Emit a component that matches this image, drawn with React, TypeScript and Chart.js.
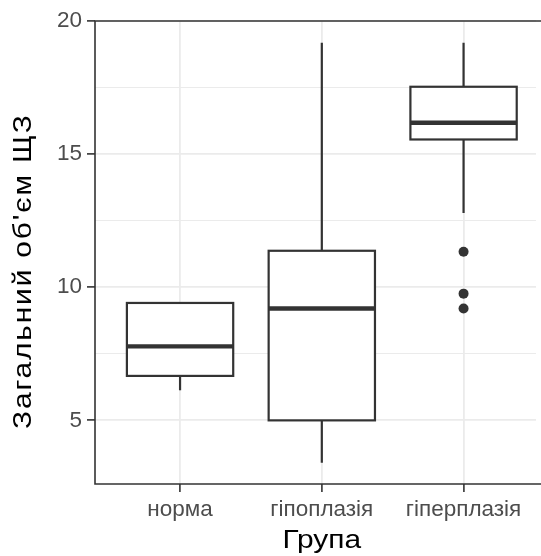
import React, { useEffect, useRef } from "react";
import { Chart, registerables } from "chart.js";

Chart.register(...registerables);

const FONT = "'Liberation Sans', Arial, Helvetica, sans-serif";

const categories = ["норма", "гіпоплазія", "гіперплазія"];
const whiskerLow = [6.13, 3.41, 12.79];
const q1 = [6.67, 5.0, 15.55];
const median = [7.78, 9.2, 16.18];
const q3 = [9.41, 11.37, 17.53];
const whiskerHigh = [9.41, 19.18, 19.18];
const outliers: number[][] = [[], [], [11.33, 9.76, 9.2]];
const yMajorTicks = [5, 10, 15, 20];
const yMinorTicks = [7.5, 12.5, 17.5];

const xTitle = "Група";
const yTitle = "Загальний об'єм ЩЗ";

const BOX_WIDTH = 0.75;

const boxPlugin = {
  id: "boxPlugin",
  beforeDatasetsDraw(chart: any) {
    const ctx = chart.ctx;
    const xs = chart.scales.x;
    const ys = chart.scales.y;
    ctx.save();
    ctx.strokeStyle = "#333333";
    ctx.lineCap = "butt";
    categories.forEach((_, i) => {
      const cx = xs.getPixelForValue(i + 1);
      const half = xs.getPixelForValue(i + 1 + BOX_WIDTH / 2) - cx;
      const yLo = ys.getPixelForValue(whiskerLow[i]);
      const yQ1 = ys.getPixelForValue(q1[i]);
      const yMed = ys.getPixelForValue(median[i]);
      const yQ3 = ys.getPixelForValue(q3[i]);
      const yHi = ys.getPixelForValue(whiskerHigh[i]);
      ctx.lineWidth = 2.2;
      ctx.beginPath();
      ctx.moveTo(cx, yQ3);
      ctx.lineTo(cx, yHi);
      ctx.moveTo(cx, yQ1);
      ctx.lineTo(cx, yLo);
      ctx.stroke();
      ctx.fillStyle = "#ffffff";
      ctx.fillRect(cx - half, yQ3, 2 * half, yQ1 - yQ3);
      ctx.strokeRect(cx - half, yQ3, 2 * half, yQ1 - yQ3);
      ctx.lineWidth = 4.4;
      ctx.beginPath();
      ctx.moveTo(cx - half, yMed);
      ctx.lineTo(cx + half, yMed);
      ctx.stroke();
    });
    ctx.restore();
  },
  afterDraw(chart: any) {
    const ctx = chart.ctx;
    const a = chart.chartArea;
    ctx.save();
    ctx.strokeStyle = "#333333";
    ctx.lineWidth = 1.6;
    ctx.beginPath();
    ctx.moveTo(chart.width + 5, a.top);
    ctx.lineTo(a.left, a.top);
    ctx.lineTo(a.left, a.bottom);
    ctx.lineTo(chart.width + 5, a.bottom);
    ctx.stroke();
    ctx.restore();

    // axis titles
    const xs = chart.scales.x;
    const xMid = xs.getPixelForValue(2);

    ctx.save();
    ctx.fillStyle = "#000000";
    ctx.font = `26px ${FONT}`;
    ctx.textBaseline = "middle";
    ctx.textAlign = "center";
    ctx.translate(xMid, 541);
    ctx.scale(1.15, 1);
    ctx.fillText(xTitle, 0, 0);
    ctx.restore();

    ctx.save();
    ctx.fillStyle = "#000000";
    ctx.font = `26px ${FONT}`;
    ctx.textBaseline = "middle";
    ctx.textAlign = "center";
    const lsY = 1.6;
    (ctx as any).letterSpacing = `${lsY}px`;
    ctx.translate(24, 272);
    ctx.rotate(-Math.PI / 2);
    ctx.scale(1.15, 1);
    ctx.fillText(yTitle, lsY / 2, 0);
    ctx.restore();
  },
};

export default function App() {
  const ref = useRef<HTMLCanvasElement | null>(null);

  useEffect(() => {
    if (!ref.current) return;
    const outlierPoints: { x: number; y: number }[] = [];
    outliers.forEach((arr, i) => arr.forEach((v) => outlierPoints.push({ x: i + 1, y: v })));
    const allY = [...yMajorTicks, ...yMinorTicks].sort((a, b) => a - b);

    const chart = new Chart(ref.current, {
      type: "scatter",
      data: {
        datasets: [
          {
            data: outlierPoints,
            pointRadius: 5,
            pointBackgroundColor: "#333333",
            pointBorderColor: "#333333",
            pointBorderWidth: 0,
          },
        ],
      },
      options: {
        animation: false,
        responsive: false,
        devicePixelRatio: 1,
        layout: { padding: { top: 21, left: 0, right: 0, bottom: 0 } },
        plugins: { legend: { display: false }, tooltip: { enabled: false } },
        scales: {
          x: {
            type: "linear",
            min: 0.4,
            max: 3.511,
            afterBuildTicks: (s: any) => {
              s.ticks = categories.map((_, i) => ({ value: i + 1 }));
            },
            afterFit: (s: any) => {
              s.height = 72;
            },
            ticks: {
              callback: (v: any) => categories[Number(v) - 1] ?? "",
              color: "#4d4d4d",
              font: { size: 22.5, family: FONT },
              padding: 4,
              autoSkip: false,
              maxRotation: 0,
            },
            grid: {
              color: "#ebebeb",
              lineWidth: 1.8,
              tickColor: "#333333",
              tickLength: 8,
              tickWidth: 1.6,
            },
            border: { display: false },
            title: { display: false },
          },
          y: {
            type: "linear",
            min: 2.61,
            max: 20,
            afterBuildTicks: (s: any) => {
              s.ticks = allY.map((v) => ({ value: v }));
            },
            afterFit: (s: any) => {
              s.width = 95;
            },
            ticks: {
              callback: (v: any) => (yMajorTicks.includes(Number(v)) ? String(v) : ""),
              color: "#4d4d4d",
              font: { size: 22.5, family: FONT },
              padding: 5,
              autoSkip: false,
            },
            grid: {
              color: "#ebebeb",
              lineWidth: (c: any) => (yMajorTicks.includes(c.tick?.value) ? 1.8 : 1),
              tickColor: (c: any) => (yMajorTicks.includes(c.tick?.value) ? "#333333" : "rgba(0,0,0,0)"),
              tickLength: 8,
              tickWidth: 1.6,
            },
            border: { display: false },
            title: { display: false },
          },
        },
      },
      plugins: [boxPlugin],
    } as any);
    return () => chart.destroy();
  }, []);

  return (
    <div style={{ position: "fixed", left: 0, top: 0, width: 541, height: 556, background: "#ffffff" }}>
      <canvas ref={ref} width={541} height={556} style={{ display: "block" }} />
    </div>
  );
}
